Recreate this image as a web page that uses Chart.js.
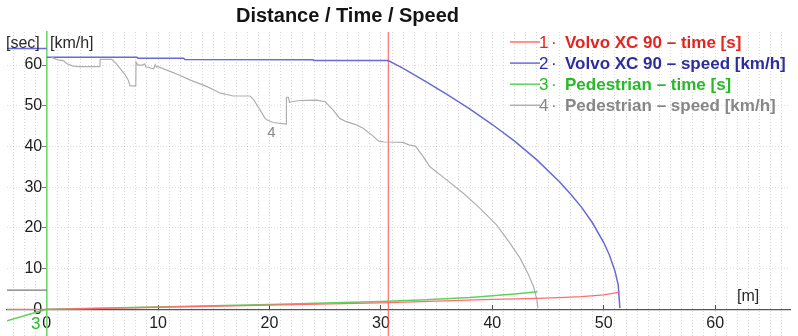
<!DOCTYPE html>
<html>
<head>
<meta charset="utf-8">
<script src="https://cdn.jsdelivr.net/npm/chart.js@4"></script>
<style>
  html, body { margin: 0; padding: 0; background: #fff; }
  #wrap { width: 798px; height: 336px; position: relative; }
</style>
</head>
<body>
<div id="wrap"><canvas id="c" width="798" height="336"></canvas></div>
<script>
// ---- data (distance [m], value) ----
const volvoTime = [[-3.56,0],[0,0],[10,0.5],[20,1.05],[30,1.6],[35,2.0],[40,2.45],[44,2.7],[46,2.85],[48,3.1],[50,3.55],[51.45,4.2]];
const volvoSpeed = [[0,61.9],[8.1,61.9],[8.2,61.7],[12.3,61.7],[12.4,61.4],[23.9,61.3],[24.0,61.1],[30.66,61.1],[32,59.2],[34,56.0],[36,52.7],[38,49.2],[40,45.4],[42,41.3],[44,36.7],[46,31.4],[47,28.4],[48,25.1],[49,21.2],[50,16.4],[50.5,13.4],[51,9.5],[51.3,6.0],[51.45,0.3]];
const volvoSpeedLead = [[-3.56,64.1],[0,64.1]];
const pedTime = [[-3.56,-2.8],[0,0],[10,0.55],[20,1.15],[30,1.9],[34,2.35],[38,2.9],[40,3.3],[42,3.75],[44.05,4.3]];
const pedSpeed = [[0.45,61.9],[1.0,61.3],[1.5,61.1],[1.8,60.4],[2.3,59.8],[2.84,59.6],[4.78,59.6],[4.8,61.4],[5.83,61.4],[6.2,60.5],[6.58,59.2],[7.0,57.8],[7.33,56.3],[7.48,54.9],[8.0,54.9],[8.02,60.7],[8.2,60.0],[8.6,60.0],[8.8,60.3],[8.9,59.6],[9.6,59.1],[9.75,60.1],[9.85,59.5],[10.0,59.6],[11.4,58.1],[12.9,56.3],[14.4,54.7],[15.6,53.1],[16.75,52.4],[18.25,52.4],[18.55,51.6],[19.15,49.0],[19.6,46.9],[19.8,46.5],[20.34,45.9],[21.5,45.5],[21.52,52.1],[21.7,52.1],[21.8,50.8],[22.0,51.0],[22.7,51.3],[24.2,51.4],[25.0,51.0],[25.7,49.0],[26.3,46.9],[26.9,46.1],[27.8,45.3],[28.4,44.5],[29.2,42.8],[29.8,41.3],[30.3,41.1],[32.0,41.0],[32.5,40.4],[33.1,40.1],[33.8,37.5],[34.4,35.0],[35.9,31.8],[37.4,28.5],[38.9,24.8],[40.4,20.7],[41.6,16.2],[42.5,12.5],[43.2,8.8],[43.7,5.6],[44.0,2.3],[44.1,0.3]];
const pedSpeedLead = [[-3.56,4.7],[0,4.7]];
const markerX = 30.66;

const xTickLabels = [0,10,20,30,40,50,60];
const yTickLabels = [0,10,20,30,40,50,60];
const legendNumbers = ['1','2','3','4'];
const legendNames = ['Volvo XC 90 \u2013 time [s]','Volvo XC 90 \u2013 speed [km/h]','Pedestrian \u2013 time [s]','Pedestrian \u2013 speed [km/h]'];
const titleText = 'Distance / Time / Speed';

const X_MIN = -3.56, X_MAX = 66.72, Y_MIN = -6.56, Y_MAX = 68.13;

const lineCols = ['rgb(255,110,110)','rgb(105,105,215)','rgb(95,210,95)','rgb(175,175,175)'];
const textCols = ['rgb(230,35,30)','rgb(45,45,160)','rgb(40,185,40)','rgb(135,135,135)'];

const pts = a => a.map(p => ({x: p[0], y: p[1]}));
const ds = (data, color, w) => ({data: pts(data), borderColor: color, borderWidth: w, pointRadius: 0, showLine: true, fill: false, tension: 0});

const textPlugin = {
  id: 'texts',
  afterDraw(chart) {
    const c = chart.ctx;
    c.save();
    const fam = '"Liberation Sans", Arial, sans-serif';
    c.textBaseline = 'alphabetic';
    // title
    c.fillStyle = '#141414';
    c.font = 'bold 20px ' + fam;
    c.textAlign = 'center';
    c.fillText(titleText, 347.5, 22);
    // unit labels
    c.font = '16px ' + fam;
    c.fillStyle = '#2a2a2a';
    c.textAlign = 'left';
    c.fillText('[sec]', 6, 48);
    c.fillText('[km/h]', 50, 48);
    c.fillText('[m]', 737, 301);
    // series labels
    c.fillStyle = textCols[3];
    c.font = '15px ' + fam;
    c.textAlign = 'center';
    c.fillText('4', 271.5, 137);
    c.fillStyle = textCols[2];
    c.font = '17px ' + fam;
    c.textAlign = 'left';
    c.fillText('3', 31, 329);
    // legend
    for (let i = 0; i < legendNames.length; i++) {
      const by = 47.5 + 21.1 * i;
      c.strokeStyle = lineCols[i];
      c.lineWidth = 1.5;
      c.beginPath(); c.moveTo(510, by - 5.5); c.lineTo(540, by - 5.5); c.stroke();
      c.fillStyle = textCols[i];
      c.font = '17px ' + fam;
      c.textAlign = 'left';
      c.fillText(legendNumbers[i], 539, by);
      c.fillText('\u00b7', 551, by);
      c.font = 'bold 17px ' + fam;
      c.fillText(legendNames[i], 565, by);
    }
    c.restore();
  }
};

const zeroPad = s => { s.paddingTop = 0; s.paddingBottom = 0; s.paddingLeft = 0; s.paddingRight = 0; };

new Chart(document.getElementById('c'), {
  type: 'scatter',
  data: {
    datasets: [
      ds(volvoTime, lineCols[0], 1.3),
      ds(pedTime, lineCols[2], 1.5),
      ds(pedSpeed, lineCols[3], 1.2),
      ds(volvoSpeed, lineCols[1], 1.5),
      ds(volvoSpeedLead, lineCols[1], 1.5),
      ds(pedSpeedLead, 'rgb(120,120,120)', 1.2),
      ds([[markerX, Y_MIN],[markerX, Y_MAX]], 'rgb(255,80,80)', 1)
    ]
  },
  options: {
    responsive: false,
    animation: false,
    layout: { padding: { left: 7, right: 8, top: 32, bottom: 0 } },
    plugins: { legend: { display: false }, title: { display: false }, tooltip: { enabled: false } },
    scales: {
      x: {
        type: 'linear',
        position: { y: 0 },
        min: X_MIN, max: X_MAX,
        afterFit: zeroPad,
        ticks: {
          stepSize: 1, includeBounds: false, autoSkip: false, maxRotation: 0,
          padding: 10,
          color: '#1e1e1e',
          font: { family: '"Liberation Sans", Arial, sans-serif', size: 16 },
          callback: v => xTickLabels.includes(v) ? String(v) : ''
        },
        grid: {
          color: 'rgba(0,0,0,0.15)',
          lineWidth: 1,
          drawTicks: true,
          tickLength: -5,
          tickColor: ctx => (ctx.tick && xTickLabels.includes(ctx.tick.value)) ? '#444' : 'rgba(0,0,0,0)'
        },
        border: { display: true, color: '#555', width: 1.2, dash: [1, 2] }
      },
      y: {
        type: 'linear',
        position: { x: 0 },
        min: Y_MIN, max: Y_MAX,
        afterFit: zeroPad,
        ticks: {
          stepSize: 10, includeBounds: false,
          padding: 1,
          color: '#1e1e1e',
          font: { family: '"Liberation Sans", Arial, sans-serif', size: 16 },
          callback: v => yTickLabels.includes(v) ? String(v) + ' ' : ''
        },
        grid: {
          color: 'rgba(0,0,0,0.13)',
          drawTicks: true,
          tickLength: 4,
          tickColor: '#777'
        },
        border: { display: true, color: 'rgb(110,215,110)', width: 1.6, dash: [1, 2] }
      }
    }
  },
  plugins: [textPlugin]
});
</script>
</body>
</html>
